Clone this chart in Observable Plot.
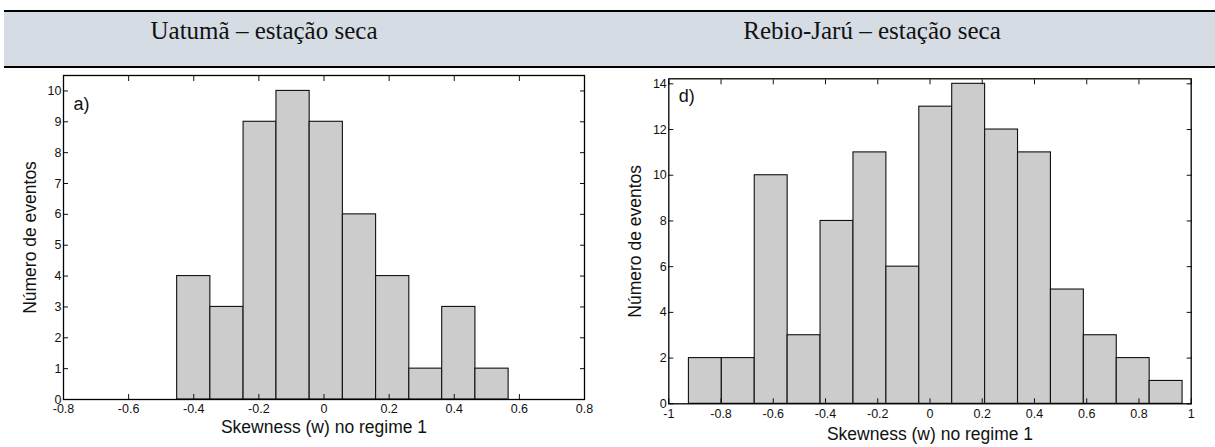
<!DOCTYPE html>
<html>
<head>
<meta charset="utf-8">
<script src="https://cdn.jsdelivr.net/npm/d3@7"></script>
<script src="https://cdn.jsdelivr.net/npm/@observablehq/plot@0.6"></script>
<style>
  body { margin: 0; background: #fff; }
  #page { position: relative; width: 1215px; height: 447px; overflow: hidden; background: #fff; }
  #band { position: absolute; left: 4px; right: 0; top: 10px; height: 54px; background: #d6dce4;
          border-top: 2px solid #000; border-bottom: 2.5px solid #000; }
  .title { position: absolute; width: 500px; text-align: center; top: 18px; line-height: 25px;
           font-family: "Liberation Serif", "Times New Roman", serif; font-weight: normal; font-size: 25px; color: #111; white-space: nowrap; }
  .chart { position: absolute; top: 70px; }
</style>
</head>
<body>
<div id="page">
  <div id="band"></div>
  <div class="title" id="t0" style="left:14px"></div>
  <div class="title" id="t1" style="left:622px"></div>
  <div class="chart" id="c0" style="left:0px"></div>
  <div class="chart" id="c1" style="left:605px"></div>
</div>
<script>
// ---- data ----
const titles = ["Uatumã – estação seca", "Rebio-Jarú – estação seca"];
const panelLabels = ["a)", "d)"];
const xLabel = "Skewness (w) no regime 1";
const yLabel = "Número de eventos";

const leftEdges  = [-0.451, -0.349, -0.247, -0.146, -0.044, 0.058, 0.160, 0.262, 0.363, 0.465, 0.567];
const leftCounts = [4, 3, 9, 10, 9, 6, 4, 1, 3, 1];
const leftXTicks = [-0.8, -0.6, -0.4, -0.2, 0, 0.2, 0.4, 0.6, 0.8];
const leftYTicks = [0, 1, 2, 3, 4, 5, 6, 7, 8, 9, 10];

const rightEdges  = [-0.923, -0.797, -0.671, -0.545, -0.419, -0.293, -0.167, -0.041, 0.085, 0.211, 0.337, 0.463, 0.589, 0.715, 0.841, 0.967];
const rightCounts = [2, 2, 10, 3, 8, 11, 6, 13, 14, 12, 11, 5, 3, 2, 1];
const rightXTicks = [-1, -0.8, -0.6, -0.4, -0.2, 0, 0.2, 0.4, 0.6, 0.8, 1];
const rightYTicks = [0, 2, 4, 6, 8, 10, 12, 14];

// ---- helpers ----
const fmt = d => String(Math.round(d * 10) / 10);
const blank = () => "";

function histogram({edges, counts, xDomain, yDomain, xTicks, yTicks, width, height, margins, panel, panelDy, xLabelDy, yLabelDx}) {
  const bins = counts.map((c, i) => ({x1: edges[i], x2: edges[i + 1], n: c}));
  return Plot.plot({
    width, height, ...margins,
    x: {domain: xDomain},
    y: {domain: yDomain},
    style: {fontFamily: '"Liberation Sans", Arial, sans-serif', fontSize: "12.5px", color: "#111", background: "transparent", overflow: "visible"},
    marks: [
      Plot.rectY(bins, {x1: "x1", x2: "x2", y: "n", fill: "#cccccc", stroke: "#111", strokeWidth: 1.1}),
      // inward ticks on all four sides (MATLAB box style)
      Plot.axisX(xTicks, {anchor: "bottom", tickSize: -5, tickFormat: blank, label: null}),
      Plot.axisX(xTicks, {anchor: "top", tickSize: -5, tickFormat: blank, label: null}),
      Plot.axisY(yTicks, {anchor: "left", tickSize: -5, tickFormat: blank, label: null}),
      Plot.axisY(yTicks, {anchor: "right", tickSize: -5, tickFormat: blank, label: null}),
      // tick labels
      Plot.text(xTicks, {x: d => d, text: fmt, frameAnchor: "bottom", lineAnchor: "top", textAnchor: "middle", dy: 5, fontSize: 12.5}),
      Plot.text(yTicks, {y: d => d, text: fmt, frameAnchor: "left", lineAnchor: "middle", textAnchor: "end", dx: -2, fontSize: 12.5}),
      Plot.frame({stroke: "#000", strokeWidth: 1.3}),
      Plot.text([xLabel], {text: d => d, frameAnchor: "bottom", lineAnchor: "middle", textAnchor: "middle", dy: xLabelDy, fontSize: 17.5}),
      Plot.text([yLabel], {text: d => d, frameAnchor: "left", lineAnchor: "middle", textAnchor: "middle", dx: yLabelDx, rotate: -90, fontSize: 17.5}),
      Plot.text([panel], {text: d => d, frameAnchor: "top-left", lineAnchor: "middle", textAnchor: "start", dx: 10, dy: panelDy, fontSize: 18})
    ]
  });
}

document.getElementById("t0").textContent = titles[0];
document.getElementById("t1").textContent = titles[1];

document.getElementById("c0").append(histogram({
  edges: leftEdges, counts: leftCounts, xDomain: [-0.8, 0.8], yDomain: [0, 10.5],
  xTicks: leftXTicks, yTicks: leftYTicks, width: 600, height: 377,
  margins: {marginLeft: 63, marginRight: 16, marginTop: 5, marginBottom: 48},
  panel: panelLabels[0], panelDy: 29, xLabelDy: 28, yLabelDx: -33
}));

document.getElementById("c1").append(histogram({
  edges: rightEdges, counts: rightCounts, xDomain: [-1, 1], yDomain: [0, 14.22],
  xTicks: rightXTicks, yTicks: rightYTicks, width: 610, height: 377,
  margins: {marginLeft: 63.3, marginRight: 24.3, marginTop: 8.3, marginBottom: 43.7},
  panel: panelLabels[1], panelDy: 17.5, xLabelDy: 30.7, yLabelDx: -33.3
}));
</script>
</body>
</html>
